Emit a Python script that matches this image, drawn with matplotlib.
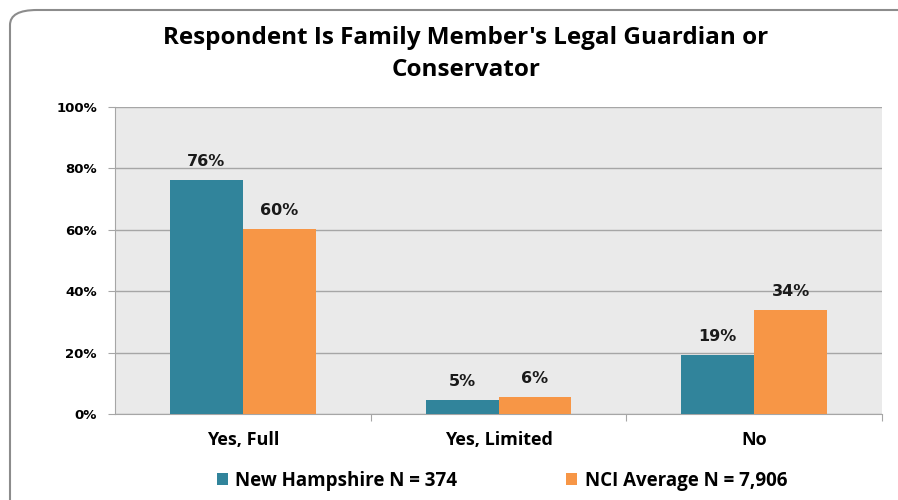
import numpy as np
import matplotlib
matplotlib.use("Agg")
import matplotlib.pyplot as plt
from matplotlib.patches import FancyBboxPatch

# Data
categories = ['Yes, Full', 'Yes, Limited', 'No']
nh_values = [76.2, 4.6, 19.2]
nci_values = [60.4, 5.6, 34.0]
nh_labels = ['76%', '5%', '19%']
nci_labels = ['60%', '6%', '34%']
series_names = ['New Hampshire N = 374', 'NCI Average N = 7,906']

teal = '#31849B'
orange = '#F79646'
title_font = 'Open Sans'

fig = plt.figure(figsize=(8.98, 5.0), dpi=100)

# rounded outer frame (cut off at right and bottom like the screenshot)
frame = FancyBboxPatch((10 / 898, -0.1), 1.2, 1.08,
                       boxstyle='round,pad=0,rounding_size=0.03',
                       transform=fig.transFigure, facecolor='white',
                       edgecolor='#8c8c8c', linewidth=1.5, zorder=-10)
fig.patches.append(frame)

ax = fig.add_axes([115 / 898, 1 - 414 / 500, (882 - 115) / 898, (414 - 107) / 500])
ax.set_facecolor('#EAEAEA')

x = np.arange(len(categories))
width = 0.285
bars1 = ax.bar(x - width / 2, nh_values, width, color=teal, label=series_names[0], zorder=3)
bars2 = ax.bar(x + width / 2, nci_values, width, color=orange, label=series_names[1], zorder=3)

for bar, lab in zip(bars1, nh_labels):
    ax.text(bar.get_x() + bar.get_width() / 2, bar.get_height() + 3.5, lab,
            ha='center', va='bottom', fontsize=11.5, fontweight='bold', color='#1a1a1a')
for bar, lab in zip(bars2, nci_labels):
    ax.text(bar.get_x() + bar.get_width() / 2, bar.get_height() + 3.5, lab,
            ha='center', va='bottom', fontsize=11.5, fontweight='bold', color='#1a1a1a')

ax.set_xlim(-0.5, 2.5)
ax.set_ylim(0, 100)
ax.set_yticks([0, 20, 40, 60, 80, 100])
ax.set_yticklabels(['0%', '20%', '40%', '60%', '80%', '100%'],
                   fontsize=9.5, fontweight='bold')
ax.yaxis.grid(True, color='#a6a6a6', linewidth=1, zorder=1)

# category labels, tick marks at category boundaries
ax.set_xticks([0.5, 1.5, 2.5])
ax.set_xticklabels([])
ax.tick_params(axis='x', length=5, color='#a6a6a6')
ax.tick_params(axis='y', length=5, color='#a6a6a6', pad=8)
for i, cat in enumerate(categories):
    ax.text(i, -5.5, cat, ha='center', va='top', fontsize=13,
            fontweight='bold', family=title_font, transform=ax.transData)

for side in ['top', 'right']:
    ax.spines[side].set_visible(False)
for side in ['left', 'bottom']:
    ax.spines[side].set_color('#a6a6a6')

fig.text(466 / 898, 1 - 38 / 500, "Respondent Is Family Member's Legal Guardian or",
         ha='center', va='center', fontsize=17.5, fontweight='bold', family=title_font)
fig.text(466 / 898, 1 - 70 / 500, 'Conservator',
         ha='center', va='center', fontsize=17.5, fontweight='bold', family=title_font)

fig.legend(handles=[bars1, bars2], labels=series_names, loc='center',
           bbox_to_anchor=(502 / 898, 1 - 481 / 500), ncol=2, frameon=False,
           prop={'family': title_font, 'weight': 'bold', 'size': 13.5},
           handlelength=0.6, handleheight=0.6, handletextpad=0.4, columnspacing=5.8)

fig.savefig('out.png', dpi=100)
